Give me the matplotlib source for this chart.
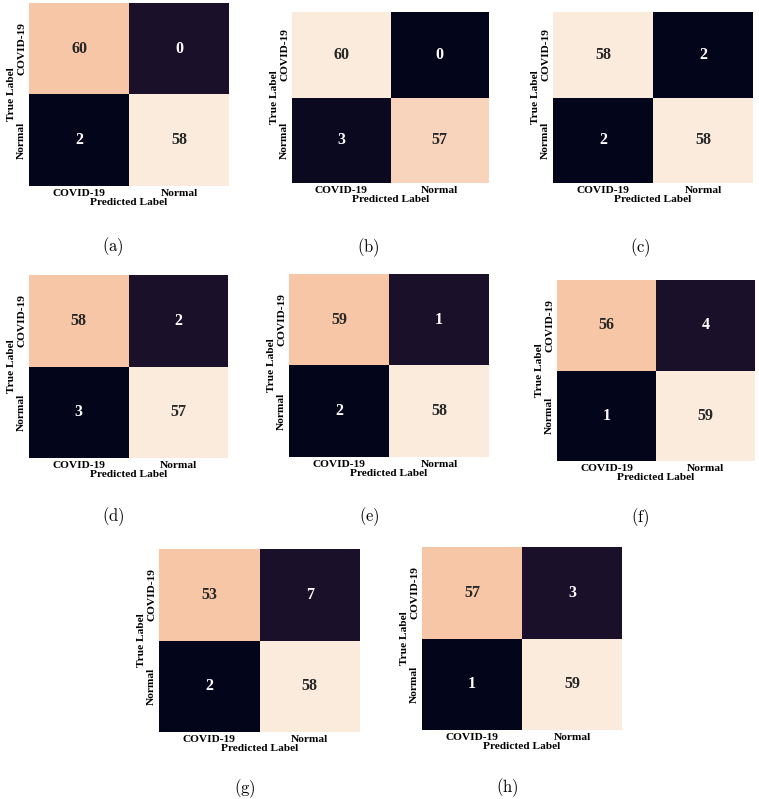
"""Confusion matrices (a)-(h): COVID-19 vs Normal."""
import matplotlib
matplotlib.use('Agg')
import matplotlib.pyplot as plt
import numpy as np
import seaborn as sns

plt.rcParams.update({'font.family': 'serif',
                     'font.serif': ['Liberation Serif', 'DejaVu Serif'],
                     'mathtext.fontset': 'cm'})

class_names = ['COVID-19', 'Normal']
panel_labels = ['(a)', '(b)', '(c)', '(d)', '(e)', '(f)', '(g)', '(h)']

# counts per panel: [[TP, FN], [FP, TN]]
counts_a = [[60, 0], [2, 58]]
counts_b = [[60, 0], [3, 57]]
counts_c = [[58, 2], [2, 58]]
counts_d = [[58, 2], [3, 57]]
counts_e = [[59, 1], [2, 58]]
counts_f = [[56, 4], [1, 59]]
counts_g = [[53, 7], [2, 58]]
counts_h = [[57, 3], [1, 59]]
all_counts = [counts_a, counts_b, counts_c, counts_d,
              counts_e, counts_f, counts_g, counts_h]

# colour level of each cell on the rocket scale
shade_a = [[0.9, 0.07], [0.0, 1.0]]
shade_b = [[1.0, 0.0], [0.03, 0.94]]
shade_c = [[1.0, 0.0], [0.0, 1.0]]
shade_d = [[0.9, 0.07], [0.0, 1.0]]
shade_e = [[0.9, 0.07], [0.0, 1.0]]
shade_f = [[0.9, 0.07], [0.0, 1.0]]
shade_g = [[0.9, 0.07], [0.0, 1.0]]
shade_h = [[0.9, 0.07], [0.0, 1.0]]
all_shades = [shade_a, shade_b, shade_c, shade_d,
              shade_e, shade_f, shade_g, shade_h]

W, H = 759, 799
fig = plt.figure(figsize=(W / 100, H / 100), dpi=100)

# axes boxes in pixels: left, right, top, bottom
boxes = [(29, 229, 3, 186), (292, 489, 12, 183), (553, 753, 12, 183),
         (29, 228, 275, 458), (289, 489, 274, 457), (557, 755, 280, 461),
         (159, 360, 549, 732), (422, 622, 547, 730)]
caption_pos = [(113, 247), (368, 248), (640, 248),
               (113, 517), (369, 517), (640, 518),
               (245, 789), (507, 788)]

for counts, shade, (l, r, t, b), lab, (cx, cy) in zip(
        all_counts, all_shades, boxes, panel_labels, caption_pos):
    ax = fig.add_axes([l / W, 1 - b / H, (r - l) / W, (b - t) / H])
    sns.heatmap(np.array(shade), annot=np.array(counts), fmt='d', cmap='rocket',
                vmin=0, vmax=1, cbar=False, ax=ax,
                annot_kws={'fontsize': 11.5, 'fontweight': 'bold'},
                xticklabels=class_names, yticklabels=class_names)
    ax.tick_params(length=0, pad=2)
    for tl in ax.get_xticklabels():
        tl.set_fontsize(8.2)
        tl.set_fontweight('bold')
    for tl in ax.get_yticklabels():
        tl.set_fontsize(8.2)
        tl.set_fontweight('bold')
        tl.set_rotation(90)
        tl.set_va('center')
    ax.set_xlabel('Predicted Label', fontsize=8.2, fontweight='bold', labelpad=0)
    ax.set_ylabel('True Label', fontsize=8.2, fontweight='bold', labelpad=1)
    fig.text(cx / W, 1 - cy / H, r'$\mathrm{' + lab + '}$', fontsize=12,
             ha='center', va='center')

plt.savefig('out.png', dpi=100)
